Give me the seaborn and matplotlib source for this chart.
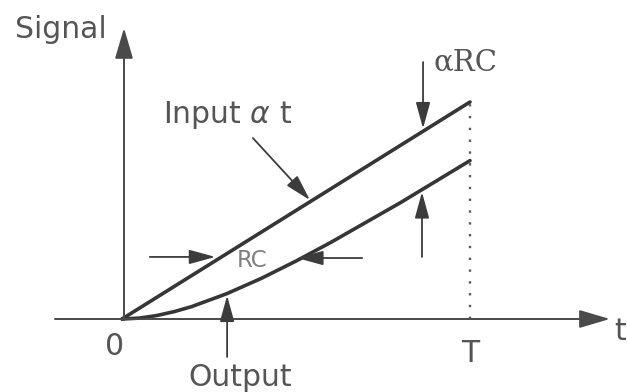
import matplotlib
matplotlib.use("Agg")
import matplotlib.pyplot as plt
import pandas as pd
import seaborn as sns

# values (time in units of T, signal in units of alpha*T)
t_in = [0.0, 1.0]
sig_in = [0.0, 1.0]
t_out = [0.0, 0.05, 0.1, 0.15, 0.2, 0.3, 0.4, 0.5, 0.6, 0.8, 1.0]
sig_out = [0.0, 0.004, 0.016, 0.034, 0.057, 0.116, 0.187, 0.267, 0.353, 0.536, 0.73]

df_in = pd.DataFrame({"t": t_in, "signal": sig_in})
df_out = pd.DataFrame({"t": t_out, "signal": sig_out})

sns.set_style("white")
plt.rcParams["font.family"] = ["DejaVu Sans"]

fig = plt.figure(figsize=(6.27, 3.92), dpi=100)
ax = fig.add_axes([0, 0, 1, 1])

line_c = "#363636"
txt_c = "#555555"
sns.lineplot(data=df_in, x="t", y="signal", ax=ax, color=line_c, lw=2.6)
sns.lineplot(data=df_out, x="t", y="signal", ax=ax, color=line_c, lw=2.6)

# dotted marker at T
ax.plot([1.0, 1.0], [0.0, 1.0], color="#5a5a5a", lw=1.7, ls=(0, (1, 4)))

def arrow(tail, tip, lw=1.3, hl=0.8, hw=0.22, c="#3c3c3c"):
    ax.annotate("", xy=tip, xytext=tail,
                arrowprops=dict(arrowstyle=f"-|>,head_length={hl},head_width={hw}",
                                lw=lw, color=c, mutation_scale=20,
                                shrinkA=0, shrinkB=0))

# axes
arrow((-0.1925, 0.0), (1.402, 0.0), lw=1.4, hl=0.95, hw=0.28, c="#4a4a4a")
arrow((0.0057, -0.005), (0.0057, 1.341), lw=1.4, hl=0.95, hw=0.28, c="#4a4a4a")

# annotation arrows
arrow((0.376, 0.834), (0.54, 0.548))
arrow((0.865, 1.184), (0.865, 0.878))
arrow((0.862, 0.286), (0.862, 0.585))
arrow((0.080, 0.286), (0.268, 0.286))
arrow((0.690, 0.281), (0.503, 0.281))
arrow((0.302, -0.175), (0.302, 0.108))

fs = 21.5
ax.text(-0.043, 1.295, "Signal", ha="right", va="baseline", fontsize=fs, color=txt_c)
ax.text(0.118, 0.903, r"Input $\alpha$ t", ha="left", va="baseline", fontsize=fs, color=txt_c)
ax.text(0.894, 1.147, "αRC", ha="left", va="baseline", fontsize=21,
        color=txt_c, family="DejaVu Serif")
ax.text(0.374, 0.240, "RC", ha="center", va="baseline", fontsize=16.5, color="#808080")
ax.text(0.190, -0.309, "Output", ha="left", va="baseline", fontsize=fs, color=txt_c)
ax.text(-0.020, -0.166, "0", ha="center", va="baseline", fontsize=fs, color=txt_c)
ax.text(1.0, -0.198, "T", ha="center", va="baseline", fontsize=fs, color=txt_c)
ax.text(1.414, -0.097, "t", ha="left", va="baseline", fontsize=fs, color=txt_c)

ax.set_xlim(-0.3506, 1.4511)
ax.set_ylim(-0.3364, 1.4700)
ax.set_axis_off()

fig.savefig("out.png", dpi=100)
